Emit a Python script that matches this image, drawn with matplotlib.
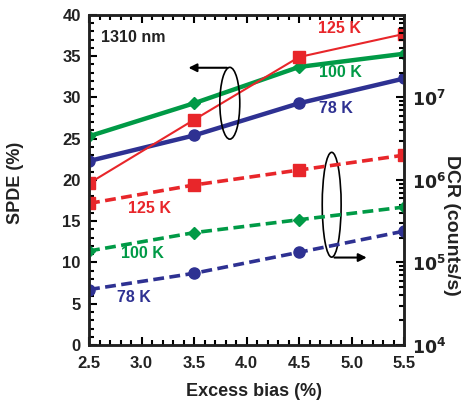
import numpy as np
import matplotlib
matplotlib.use("Agg")
import matplotlib.pyplot as plt
from matplotlib.patches import Ellipse
from matplotlib.ticker import MultipleLocator, LogLocator, NullFormatter

plt.rcParams['font.family'] = ['Liberation Sans', 'DejaVu Sans']
plt.rcParams['font.weight'] = 'bold'
plt.rcParams['mathtext.default'] = 'bf'

# excess bias (%)
bias = [2.5, 3.5, 4.5, 5.5]

# SPDE (%), left axis
spde_78 = [22.3, 25.4, 29.3, 32.3]
spde_100 = [25.3, 29.3, 33.7, 35.3]
spde_125 = [19.6, 27.3, 34.9, 37.7]

# DCR (counts/s), right axis
dcr_78 = [4.7e4, 7.4e4, 1.33e5, 2.4e5]
dcr_100 = [1.38e5, 2.3e5, 3.3e5, 4.7e5]
dcr_125 = [5.2e5, 8.7e5, 1.32e6, 2.0e6]

c_red = '#e8262a'
c_green = '#009a46'
c_blue = '#2e3192'
c_txt = '#222222'

fig = plt.figure(figsize=(4.64, 4.04), dpi=100)
ax = fig.add_axes([0.192, 0.146, 0.679, 0.817])
ax2 = ax.twinx()

# SPDE curves (solid)
ax.plot(bias, spde_125, '-', color=c_red, lw=1.5, marker='s', ms=8, zorder=5)
ax.plot(bias, spde_100, '-', color=c_green, lw=3.2, marker='D', ms=6.5, zorder=4)
ax.plot(bias, spde_78, '-', color=c_blue, lw=3.2, marker='o', ms=8, zorder=4)

# DCR curves (dashed)
ax2.plot(bias, dcr_125, '--', color=c_red, lw=2.6, marker='s', ms=8, dashes=(3, 1.5))
ax2.plot(bias, dcr_100, '--', color=c_green, lw=2.6, marker='D', ms=6.5, dashes=(3, 1.5))
ax2.plot(bias, dcr_78, '--', color=c_blue, lw=2.6, marker='o', ms=8, dashes=(3, 1.5))

ax.set_xlim(2.5, 5.5)
ax.set_ylim(0, 40)
ax2.set_yscale('log')
ax2.set_ylim(1e4, 1e8)

ax.xaxis.set_major_locator(MultipleLocator(0.5))
ax.xaxis.set_minor_locator(MultipleLocator(0.1))
ax.yaxis.set_major_locator(MultipleLocator(5))
ax.yaxis.set_minor_locator(MultipleLocator(1))
ax.set_xticks([2.5, 3.0, 3.5, 4.0, 4.5, 5.0, 5.5])
ax.set_xticklabels(['2.5', '3.0', '3.5', '4.0', '4.5', '5.0', '5.5'])

ax2.yaxis.set_minor_locator(LogLocator(base=10, subs=np.arange(2, 10), numticks=10))
ax2.yaxis.set_minor_formatter(NullFormatter())
ax2.set_yticks([1e4, 1e5, 1e6, 1e7])
ax2.set_yticklabels([r'$10^4$', r'$10^5$', r'$10^6$', r'$10^7$'])

ax.tick_params(which='both', direction='in', top=True, width=1.5, labelsize=12,
               labelcolor=c_txt)
ax.tick_params(which='major', length=6)
ax.tick_params(which='minor', length=3.5)
ax.tick_params(axis='x', pad=8)
ax.tick_params(axis='y', pad=6)
ax2.tick_params(which='both', direction='in', width=1.5, labelsize=12.5, pad=6,
                labelcolor=c_txt)
ax2.tick_params(which='major', length=6)
ax2.tick_params(which='minor', length=3.5)

for a in (ax, ax2):
    for s in a.spines.values():
        s.set_linewidth(1.8)
        s.set_color(c_txt)

fig.text(254 / 464, 1 - 392 / 404, 'Excess bias (%)', fontsize=13, fontweight='bold',
         ha='center', va='center', color=c_txt)
fig.text(16 / 464, 1 - 183 / 404, 'SPDE (%)', fontsize=13, fontweight='bold',
         rotation=90, ha='center', va='center', color=c_txt)
fig.text(452 / 464, 1 - 225 / 404, 'DCR (counts/s)', fontsize=14, fontweight='bold',
         rotation=270, ha='center', va='center', color=c_txt)

# annotations
ax.text(2.61, 37.3, '1310 nm', fontsize=11.5, fontweight='bold', va='center', color=c_txt)
ax.text(4.88, 38.3, '125 K', fontsize=11.5, fontweight='bold', color=c_red, ha='center', va='center')
ax.text(4.89, 33.0, '100 K', fontsize=11.5, fontweight='bold', color=c_green, ha='center', va='center')
ax.text(4.85, 28.7, '78 K', fontsize=11.5, fontweight='bold', color=c_blue, ha='center', va='center')
ax.text(3.08, 16.6, '125 K', fontsize=11.5, fontweight='bold', color=c_red, ha='center', va='center')
ax.text(3.01, 11.15, '100 K', fontsize=11.5, fontweight='bold', color=c_green, ha='center', va='center')
ax.text(2.93, 5.8, '78 K', fontsize=11.5, fontweight='bold', color=c_blue, ha='center', va='center')

ax2.set_zorder(ax.get_zorder() + 1)
ax2.patch.set_visible(False)

ax.add_patch(Ellipse((3.84, 29.3), 0.19, 8.7, fill=False, lw=1.2, color='black', zorder=6))
ax.annotate('', xy=(3.42, 33.6), xytext=(3.84, 33.6),
            arrowprops=dict(arrowstyle='-|>', color='black', lw=1.5, mutation_scale=12), zorder=6)
ax.add_patch(Ellipse((4.81, 17.0), 0.18, 12.7, fill=False, lw=1.2, color='black', zorder=6))
ax.annotate('', xy=(5.17, 10.6), xytext=(4.81, 10.6),
            arrowprops=dict(arrowstyle='-|>', color='black', lw=1.5, mutation_scale=12), zorder=6)

fig.savefig('out.png', dpi=100)
